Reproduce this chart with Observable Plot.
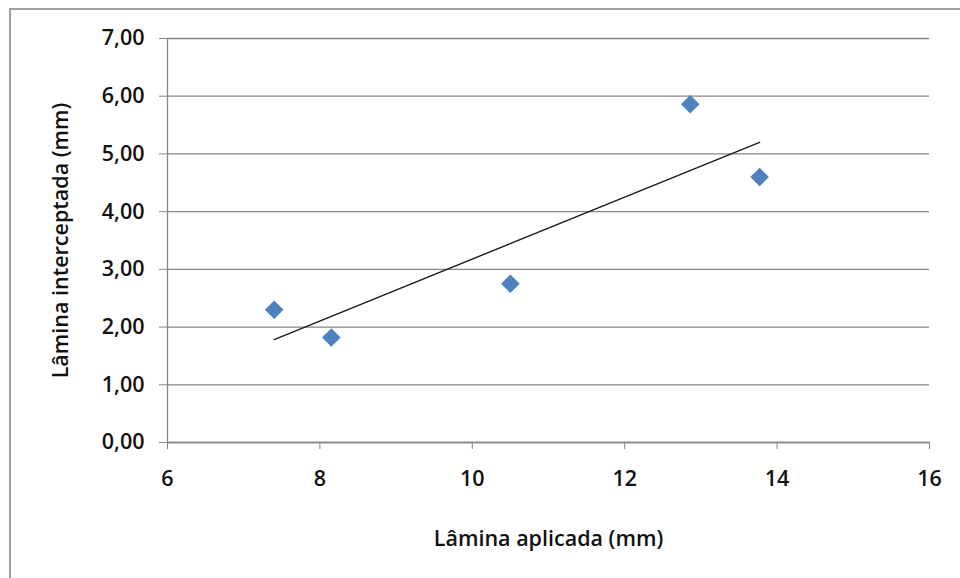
<!DOCTYPE html>
<html>
<head>
<meta charset="utf-8">
<script src="https://cdn.jsdelivr.net/npm/d3@7"></script>
<script src="https://cdn.jsdelivr.net/npm/@observablehq/plot@0.6"></script>
<style>
  html, body { margin: 0; padding: 0; background: #fff; }
  #wrap { position: relative; width: 960px; height: 578px; overflow: hidden; }
  #frame { position: absolute; left: 9px; top: 8px; width: 960px; height: 580px;
           border-top: 2px solid #a0a0a0; border-left: 2px solid #a0a0a0; box-sizing: border-box; }
  #chart { position: absolute; left: 0; top: 0; }
  #chart svg text { font-weight: 600; }
</style>
</head>
<body>
<div id="wrap"><div id="frame"></div><div id="chart"></div></div>
<script>
const laminaAplicada = [7.40, 8.15, 10.50, 12.86, 13.77];
const laminaInterceptada = [2.30, 1.82, 2.75, 5.86, 4.60];
const xTicks = [6, 8, 10, 12, 14, 16];
const yTicks = [0, 1, 2, 3, 4, 5, 6, 7];
const xLabel = "Lâmina aplicada (mm)";
const yLabel = "Lâmina interceptada (mm)";

const data = laminaAplicada.map((x, i) => ({x, y: laminaInterceptada[i]}));
const fmtY = d => d3.format(".2f")(d).replace(".", ",");

const plot = Plot.plot({
  width: 960,
  height: 578,
  marginLeft: 167,
  marginRight: 31,
  marginTop: 38,
  marginBottom: 136,
  style: {fontFamily: "'Open Sans', sans-serif", fontSize: "21px", color: "#111", background: "transparent"},
  x: {domain: [6, 16], ticks: xTicks, tickFormat: d => String(d), label: null},
  y: {domain: [0, 7], ticks: yTicks, tickFormat: fmtY, label: null},
  marks: [
    Plot.gridY(yTicks, {stroke: "#868686", strokeOpacity: 1, strokeWidth: 1.3}),
    Plot.ruleX([6], {stroke: "#868686", strokeWidth: 1.3}),
    Plot.ruleY([0], {stroke: "#868686", strokeWidth: 1.3}),
    Plot.axisY({ticks: yTicks, tickFormat: fmtY, tickSize: 8, tickPadding: 15, stroke: "#868686", fill: "#111", fontSize: 21.5,
                label: yLabel, labelAnchor: "center", labelOffset: 115, labelArrow: "none"}),
    Plot.axisX({ticks: xTicks, tickSize: 7, tickPadding: 21, stroke: "#868686", fill: "#111", fontSize: 21.5,
                label: xLabel, labelAnchor: "center", labelOffset: 103, labelArrow: "none"}),
    Plot.linearRegressionY(data, {x: "x", y: "y", ci: 0, stroke: "#1a1a1a", strokeWidth: 1.4}),
    Plot.dot(data, {x: "x", y: "y", symbol: "diamond2", r: 8.4, fill: "#4F81BD", stroke: "none"})
  ]
});
document.getElementById("chart").appendChild(plot);
</script>
</body>
</html>
